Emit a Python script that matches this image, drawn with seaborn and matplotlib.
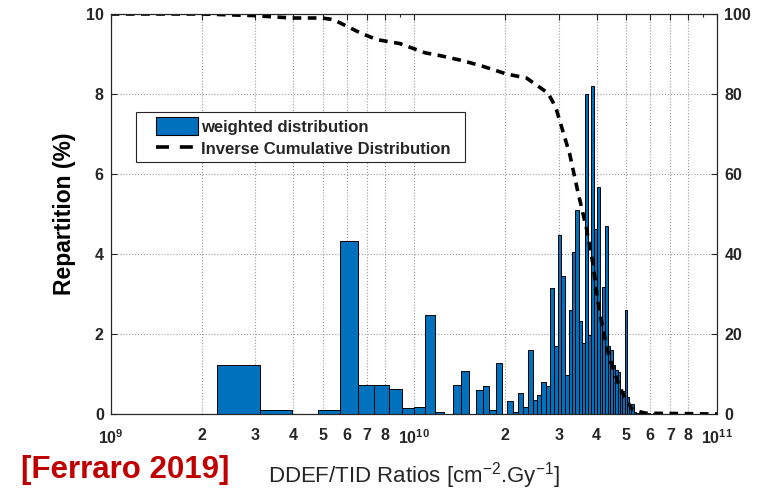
import numpy as np
import pandas as pd
import matplotlib
matplotlib.use("Agg")
import matplotlib.pyplot as plt
import seaborn as sns
from matplotlib.lines import Line2D
from matplotlib.patches import Patch
from matplotlib.legend_handler import HandlerPatch, HandlerLine2D

# histogram: linear bins of constant width (units of 1e9 cm-2.Gy-1)
bin_start = 2.24
bin_width = 0.86
weights = [1.23, 0.09, 0.0, 0.09, 4.32, 0.73, 0.73, 0.625, 0.14, 0.175,
           2.48, 0.04, 0.0, 0.73, 1.08, 0.0, 0.59, 0.69, 0.11, 1.275,
           0.0, 0.32, 0.04, 0.525, 0.175, 1.59, 0.36, 0.48, 0.8, 0.69,
           3.15, 1.69, 4.48, 3.46, 0.97, 2.59, 4.04, 5.1, 2.32, 1.78,
           8.0, 1.98, 8.2, 4.62, 5.67, 2.23, 3.17, 4.69, 1.69, 1.61,
           1.23, 1.11, 1.04, 0.57, 0.57, 2.6, 0.42, 0.14, 0.24, 0.04,
           0.02, 0.02, 0.01, 0.02, 0.01, 0.01, 0.02, 0.01, 0.01, 0.02,
           0.01, 0.0, 0.01, 0.02, 0.01, 0.0, 0.01, 0.01, 0.0, 0.01]

# inverse cumulative distribution (%)
icd_x = [1.0, 2.0, 2.96, 3.96, 4.97, 5.42, 6.64, 7.54, 8.99, 10.87,
         12.18, 14.53, 16.9, 20.18, 23.48, 27.66, 28.7, 29.5, 32.6, 34.7,
         37.0, 38.9, 40.4, 42.0, 44.1, 47.6, 50.0, 52.7, 58.0, 100.0]
icd_y = [100, 100, 99.6, 99.0, 99.0, 98.6, 95.3, 93.6, 92.6, 90.3,
         89.6, 88.3, 86.9, 85.0, 84.0, 80.2, 78.0, 76.0, 65.0, 55.5,
         46.5, 37.5, 28.0, 21.0, 14.0, 6.8, 3.6, 1.0, 0.2, 0.0]

decades = [1e9, 1e10]
minor_digits = ['2', '3', '4', '5', '6', '7', '8']
exponents = ['9', '10', '11']

sns.set_style("white")
plt.rcParams['font.family'] = ['Liberation Sans', 'DejaVu Sans']
plt.rcParams['mathtext.default'] = 'regular'

bar_color = '#0072BD'
ink = '#262626'

nb = len(weights)
edges = (bin_start + bin_width * np.arange(nb + 1)) * 1e9
hist_df = pd.DataFrame({'ratio': (edges[:-1] + edges[1:]) / 2, 'w': weights})
icd_df = pd.DataFrame({'ratio': np.array(icd_x) * 1e9, 'pct': icd_y})

fig = plt.figure(figsize=(7.77, 4.91), dpi=100)
ax = fig.add_axes([0.1425, 0.1568, 0.7807, 0.8147])

sns.histplot(data=hist_df, x='ratio', weights='w', bins=edges.tolist(), ax=ax,
             color=bar_color, alpha=1, edgecolor='black', linewidth=0.7)
ax.set_xscale('log')
ax.set_xlim(1e9, 1e11)
ax.set_ylim(0, 10)

# ticks in MATLAB style: 10^n plus 2..8 labels
tick_pos, tick_lab = [], []
for d, e in zip(decades, exponents[:2]):
    tick_pos.append(d)
    tick_lab.append(r'$10^{%s}$' % e)
    for m in minor_digits:
        tick_pos.append(int(m) * d)
        tick_lab.append(m)
tick_pos.append(1e11)
tick_lab.append(r'$10^{%s}$' % exponents[2])
ax.set_xticks(tick_pos)
ax.set_xticklabels(tick_lab, fontweight='bold', fontsize=11.5, color=ink)
ax.set_xticks([9e9, 9e10], minor=True)
ax.set_yticks([0, 2, 4, 6, 8, 10])
ax.set_yticklabels(['0', '2', '4', '6', '8', '10'], fontweight='bold', fontsize=11.5, color=ink)
ax.tick_params(axis='both', which='both', direction='in', top=True, right=False,
               length=4, width=0.8, color=ink, pad=5)
ax.tick_params(axis='x', which='major', pad=10)
ax.tick_params(axis='x', which='minor', length=2.5)
ax.grid(True, which='major', linestyle=':', color='#9a9a9a', linewidth=0.8)
ax.set_axisbelow(True)
for s in ax.spines.values():
    s.set_color(ink)
    s.set_linewidth(0.8)

ax.set_ylabel('Repartition (%)', fontsize=16.5, fontweight='bold', color='black', labelpad=7)
ax.set_xlabel('DDEF/TID Ratios [cm$^{-2}$.Gy$^{-1}$]', fontsize=16, color=ink)
ax.xaxis.set_label_coords(0.5, -0.115)

ax2 = ax.twinx()
sns.lineplot(data=icd_df, x='ratio', y='pct', ax=ax2, color='black',
             linewidth=2.6, linestyle=(0, (2.4, 1.8)))
ax2.set_ylim(0, 100)
ax2.set_yticks([0, 20, 40, 60, 80, 100])
ax2.set_yticklabels(['0', '20', '40', '60', '80', '100'], fontweight='bold', fontsize=11.5, color=ink)
ax2.tick_params(axis='y', direction='in', length=4, width=0.8, color=ink, pad=5)
ax2.set_ylabel('')
for s in ax2.spines.values():
    s.set_color(ink)
    s.set_linewidth(0.8)

handles = [Patch(facecolor=bar_color, edgecolor='black', linewidth=0.8),
           Line2D([], [], color='black', linewidth=2.6, linestyle=(0, (3.6, 3.0)))]
labels = ['weighted distribution', 'Inverse Cumulative Distribution  ']
leg = ax2.legend(handles, labels, loc='upper left', bbox_to_anchor=(0.0417, 0.755),
                 borderaxespad=0, fancybox=False, framealpha=1, edgecolor=ink,
                 prop={'weight': 'bold', 'size': 12}, handlelength=3.42,
                 handleheight=1.3, handletextpad=0.2, labelspacing=0.25,
                 borderpad=0.3,
                 handler_map={Patch: HandlerPatch(xpad=0.9),
                              Line2D: HandlerLine2D(xpad=0.9)})
leg.get_frame().set_linewidth(0.8)

fig.text(0.027, 0.042, '[Ferraro 2019]', color='#C00000', fontsize=22.5,
         fontweight='bold', va='center', ha='left')

fig.savefig('out.png', dpi=100)
